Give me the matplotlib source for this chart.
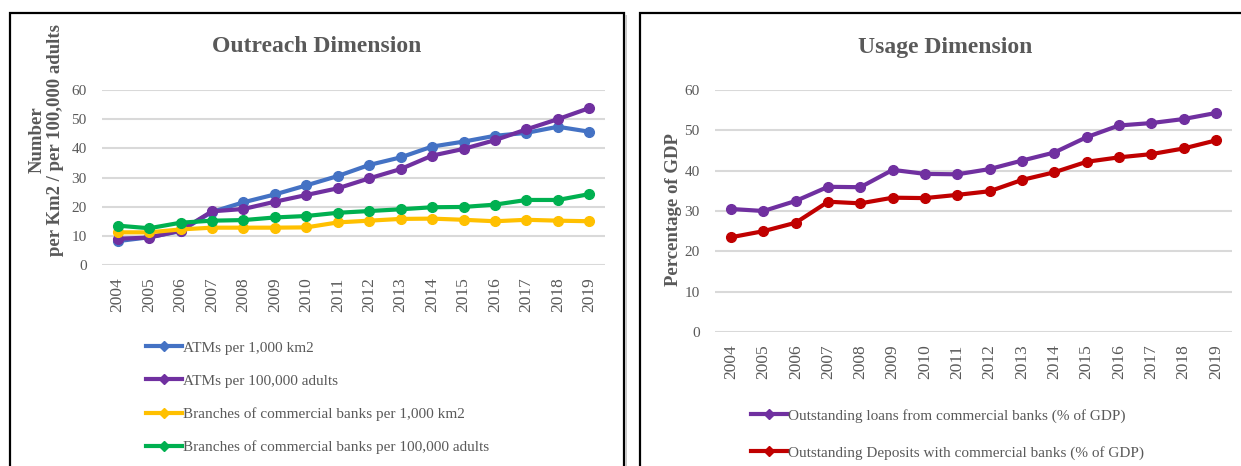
import matplotlib
matplotlib.use("Agg")
import matplotlib.pyplot as plt
from matplotlib.patches import Rectangle
from matplotlib.lines import Line2D

# ---- data -------------------------------------------------------------
years = [str(y) for y in range(2004, 2020)]

atms_per_km2 = [8.2, 9.5, 11.6, 18.2, 21.5, 24.2, 27.3, 30.5, 34.3, 36.9,
                40.6, 42.3, 44.3, 45.3, 47.4, 45.7]
atms_per_adults = [9.0, 9.4, 11.8, 18.4, 19.2, 21.7, 24.0, 26.3, 29.7, 32.9,
                   37.5, 39.8, 42.8, 46.5, 50.0, 53.8]
branches_per_km2 = [11.2, 11.2, 12.2, 12.8, 12.8, 12.8, 12.9, 14.6, 15.2, 15.8,
                    15.9, 15.5, 15.0, 15.5, 15.2, 15.0]
branches_per_adults = [13.5, 12.6, 14.5, 15.2, 15.4, 16.3, 16.8, 17.9, 18.5, 19.1,
                       19.8, 19.9, 20.7, 22.3, 22.3, 24.3]

loans_gdp = [30.5, 30.0, 32.5, 36.0, 35.9, 40.2, 39.2, 39.1, 40.4, 42.5,
             44.5, 48.3, 51.2, 51.8, 52.8, 54.3]
deposits_gdp = [23.5, 25.0, 27.1, 32.3, 31.9, 33.3, 33.2, 34.0, 34.9, 37.7,
                39.6, 42.2, 43.3, 44.1, 45.5, 47.5]

outreach_series = [
    ("ATMs per 1,000 km2", atms_per_km2, "#4472C4"),
    ("ATMs per 100,000 adults", atms_per_adults, "#7030A0"),
    ("Branches of commercial banks per 1,000 km2", branches_per_km2, "#FFC000"),
    ("Branches of commercial banks per 100,000 adults", branches_per_adults, "#00B050"),
]
usage_series = [
    ("Outstanding loans from commercial banks (% of GDP)", loans_gdp, "#7030A0"),
    ("Outstanding Deposits with commercial banks (% of GDP)", deposits_gdp, "#C00000"),
]

# ---- style ------------------------------------------------------------
W, H = 1241, 466
SERIF = ["Liberation Serif", "DejaVu Serif"]
GREY = "#595959"
plt.rcParams["font.family"] = SERIF

fig = plt.figure(figsize=(W / 100, H / 100), dpi=100)


def px_axes(x0, x1, y_top, y_bot):
    return fig.add_axes([x0 / W, 1 - y_bot / H, (x1 - x0) / W, (y_bot - y_top) / H])


def style_axes(ax):
    x = list(range(len(years)))
    ax.set_xlim(-0.5, len(years) - 0.5)
    ax.set_ylim(0, 60)
    ax.set_yticks(range(0, 61, 10))
    ax.set_xticks(x)
    ax.set_xticklabels(years, rotation=90)
    ax.tick_params(axis="both", length=0, labelsize=11, labelcolor=GREY)
    ax.tick_params(axis="x", pad=9, labelsize=12.5)
    ax.tick_params(axis="y", pad=11)
    for s in ax.spines.values():
        s.set_visible(False)
    ax.grid(axis="y", color="#D9D9D9", lw=1.5)
    ax.set_axisbelow(True)
    return x


def draw(ax, series):
    x = style_axes(ax)
    handles = []
    for label, vals, col in series:
        ax.plot(x, vals, color=col, lw=3, marker="o", ms=7,
                solid_capstyle="round", label=label)
        handles.append(Line2D([], [], color=col, lw=3, marker="D", ms=5.5))
    return handles


# ---- left panel: outreach ----------------------------------------------
ax1 = px_axes(102, 605, 90, 265)
h1 = draw(ax1, outreach_series)
fig.text(317 / W, 1 - 47 / H, "Outreach Dimension", ha="center", va="center",
         fontsize=17, fontweight="bold", color=GREY)
fig.text(46 / W, 1 - 140 / H, "Number\nper Km2 / per 100,000 adults",
         rotation=90, ha="center", va="center", fontsize=13.5, fontweight="bold",
         color=GREY, linespacing=1.1, multialignment="center")
fig.legend(h1, [s[0] for s in outreach_series], loc="upper left",
           bbox_to_anchor=(146 / W, 1 - 341 / H), bbox_transform=fig.transFigure,
           frameon=False, fontsize=11, labelcolor=GREY, borderpad=0,
           borderaxespad=0, handlelength=2.35, handletextpad=0.05,
           labelspacing=1.27)

# ---- right panel: usage ------------------------------------------------
ax2 = px_axes(715, 1232, 90, 332)
h2 = draw(ax2, usage_series)
fig.text(945 / W, 1 - 48 / H, "Usage Dimension", ha="center", va="center",
         fontsize=17, fontweight="bold", color=GREY)
fig.text(674 / W, 1 - 210 / H, "Percentage of GDP", rotation=90,
         ha="center", va="center", fontsize=13.5, fontweight="bold", color=GREY)
fig.legend(h2, [s[0] for s in usage_series], loc="upper left",
           bbox_to_anchor=(751 / W, 1 - 409 / H), bbox_transform=fig.transFigure,
           frameon=False, fontsize=11, labelcolor=GREY, borderpad=0,
           borderaxespad=0, handlelength=2.35, handletextpad=0.05,
           labelspacing=1.5)

# ---- panel frames ------------------------------------------------------
for x0, x1 in [(10, 624), (640, 1260)]:
    fig.add_artist(Rectangle((x0 / W, -0.1), (x1 - x0) / W, 1.1 - 13 / H,
                             transform=fig.transFigure, fill=False,
                             ec="black", lw=1.6))
    fig.add_artist(Rectangle(((x1 + 2) / W, -0.1), 0, 1.1 - 15 / H,
                             transform=fig.transFigure, fill=False,
                             ec="#C8C8C8", lw=1.2))

fig.savefig("out.png", dpi=100)
